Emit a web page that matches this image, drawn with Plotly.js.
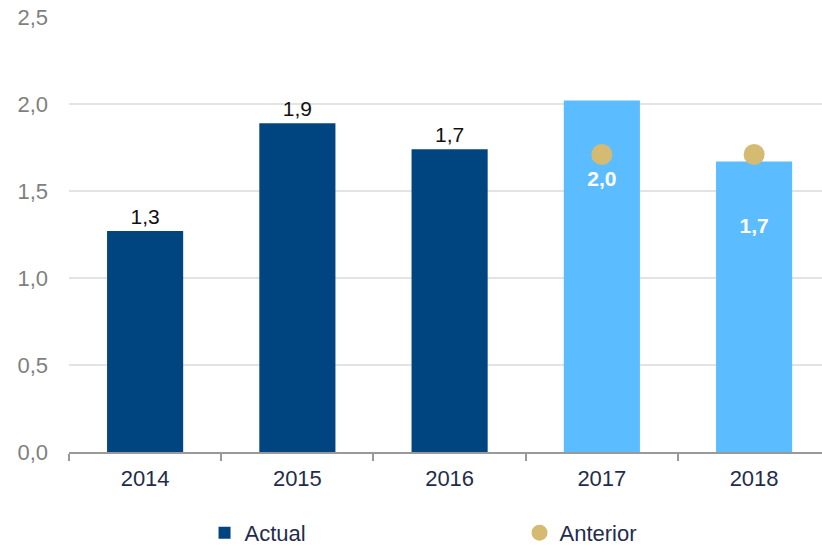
<!DOCTYPE html>
<html><head><meta charset="utf-8">
<script src="https://cdn.plot.ly/plotly-3.0.1.min.js"></script>
<style>html,body{margin:0;padding:0;background:#fff}#c{width:822px;height:545px}</style>
</head><body><div id="c"></div>
<script>
var years = ['2014','2015','2016','2017','2018'];
var actual = [1.27, 1.89, 1.74, 2.02, 1.67];
var actualLabels = ['1,3','1,9','1,7','',''];
var anteriorYears = ['2017','2018'];
var anterior = [1.71, 1.71];
var insideLabels = ['2,0','1,7'];
var insideLabelY = [1.56, 1.29];
var yTickVals = [0, 0.5, 1.0, 1.5, 2.0, 2.5];
var yTickText = ['0,0','0,5','1,0','1,5','2,0','2,5'];

var dark = '#00457F', light = '#5BBDFF', gold = '#D5BA72';
var barColors = years.map(function(y, i){ return i < 3 ? dark : light; });
var FONT = 'Liberation Sans, Arial, sans-serif';

var traces = [
  {type:'bar', name:'Actual', x:years, y:actual, marker:{color:barColors},
   text:actualLabels, textposition:'outside', cliponaxis:false,
   textfont:{family:FONT, size:21, color:'#111'}, hoverinfo:'x+y'},
  {type:'scatter', mode:'markers', name:'Anterior', x:anteriorYears, y:anterior,
   marker:{color:gold, size:21}},
  {type:'scatter', mode:'text', x:anteriorYears, y:insideLabelY,
   text:insideLabels.map(function(t){return '<b>'+t+'</b>';}), showlegend:false,
   textposition:'middle center', textfont:{family:FONT, size:21, color:'#fff'}, hoverinfo:'skip'}
];

var layout = {
  width:822, height:545,
  margin:{l:69, r:0, t:17, b:93, autoexpand:false},
  paper_bgcolor:'#fff', plot_bgcolor:'#fff',
  bargap:0.5,
  showlegend:true,
  legend:{orientation:'h', x:0.18, xanchor:'left', y:-0.186, yanchor:'middle',
    entrywidth:270, traceorder:'normal',
    font:{family:FONT, size:22, color:'#1F2D4D'}},
  xaxis:{type:'category', range:[-0.5, 4.446], showline:true, linecolor:'#999', linewidth:2,
    ticks:'outside', tickson:'boundaries', ticklen:7, tickcolor:'#999', tickwidth:2,
    ticklabelstandoff:6,
    showgrid:false, tickfont:{family:FONT, size:22, color:'#1F2D4D'}},
  yaxis:{range:[0, 2.5], tickvals:yTickVals, ticktext:yTickText, showline:false, zeroline:false,
    gridcolor:'#E3E3E3', gridwidth:1.5, ticks:'', ticklabelstandoff:20,
    tickfont:{family:FONT, size:22, color:'#7F7F7F'}}
};
Plotly.newPlot('c', traces, layout, {displayModeBar:false});
</script></body></html>
